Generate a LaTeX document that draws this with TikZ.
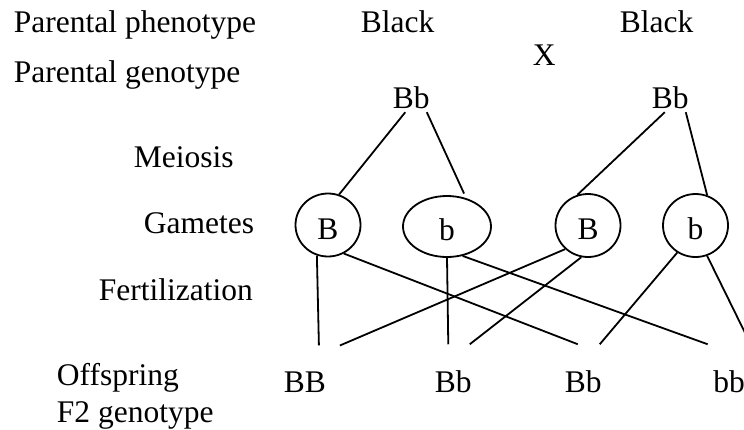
\documentclass[tikz,border=0pt]{standalone}
\usepackage{fontspec}
\setmainfont{Liberation Serif}
\usetikzlibrary{shapes.geometric}

\begin{document}
\begin{tikzpicture}[x=1pt,y=-1pt,line width=1.8pt,
  every node/.style={font=\fontsize{31.5}{36}\selectfont},
  txt/.style={anchor=base west,inner sep=0pt},
  gamete/.style={draw,ellipse,inner sep=0pt,minimum width=65pt,minimum height=63pt,text height=28pt,text depth=0pt}]

\useasboundingbox (0,0) rectangle (744,429);
\clip (0,0) rectangle (744,429);

\node[txt] (PHENO)  at (13,32)   {Parental phenotype};
\node[txt] (GENO)   at (13,82)   {Parental genotype};
\node[txt] (MEIO)   at (133,167) {Meiosis};
\node[txt] (GAMS)   at (143,233) {Gametes};
\node[txt] (FERT)   at (98,300)  {Fertilization};
\node[txt] (OFFLBL) at (56,385)  {Offspring};
\node[txt] (FTWO)   at (56,422)  {F2 genotype};

\node[txt] (BLACKA) at (360,32)  {Black};
\node[txt] (BLACKB) at (619,32)  {Black};
\node[txt] (CROSS)  at (532,65)  {X};
\node[txt] (PARA)   at (392,108) {Bb};
\node[txt] (PARB)   at (651,108) {Bb};

\node[gamete]                                   (GAM1) at (328,225)   {B};
\node[gamete,minimum width=88pt,minimum height=61pt] (GAM2) at (447,226.5) {b};
\node[gamete]                                   (GAM3) at (588,225.5) {B};
\node[gamete]                                   (GAM4) at (695.5,225.5) {b};

\node[txt] (OFF1) at (283,392)   {BB};
\node[txt] (OFF2) at (434,392)   {Bb};
\node[txt] (OFF3) at (564,392)   {Bb};
\node[txt] (OFF4) at (712.5,392) {bb};

\path ([xshift=-6pt,yshift=-3pt]PARA.south)   edge (GAM1.70)
      ([xshift=15.5pt,yshift=-3pt]PARA.south) edge [shorten >=5pt] (GAM2.56)
      ([xshift=-5.5pt,yshift=-3pt]PARB.south) edge (GAM3.109)
      ([xshift=15.5pt,yshift=-3pt]PARB.south) edge (GAM4.69)
      (GAM1.250)  edge ([xshift=14pt,yshift=25pt]OFF1.north)
      (GAM1.299)  edge ([xshift=-5.5pt,yshift=25pt]OFF3.north)
      (GAM2.south) edge ([xshift=-5pt,yshift=25pt]OFF2.north)
      (GAM2.298)  edge ([xshift=-21.5pt,yshift=25pt]OFF4.north)
      (GAM3.226)  edge ([xshift=35pt,yshift=25pt]OFF1.north)
      (GAM3.258)  edge ([xshift=16.5pt,yshift=25pt]OFF2.north)
      (GAM4.236)  edge ([xshift=16.5pt,yshift=25pt]OFF3.north)
      (GAM4.291)  edge ([xshift=21.5pt,yshift=25pt]OFF4.north);
\end{tikzpicture}
\end{document}
